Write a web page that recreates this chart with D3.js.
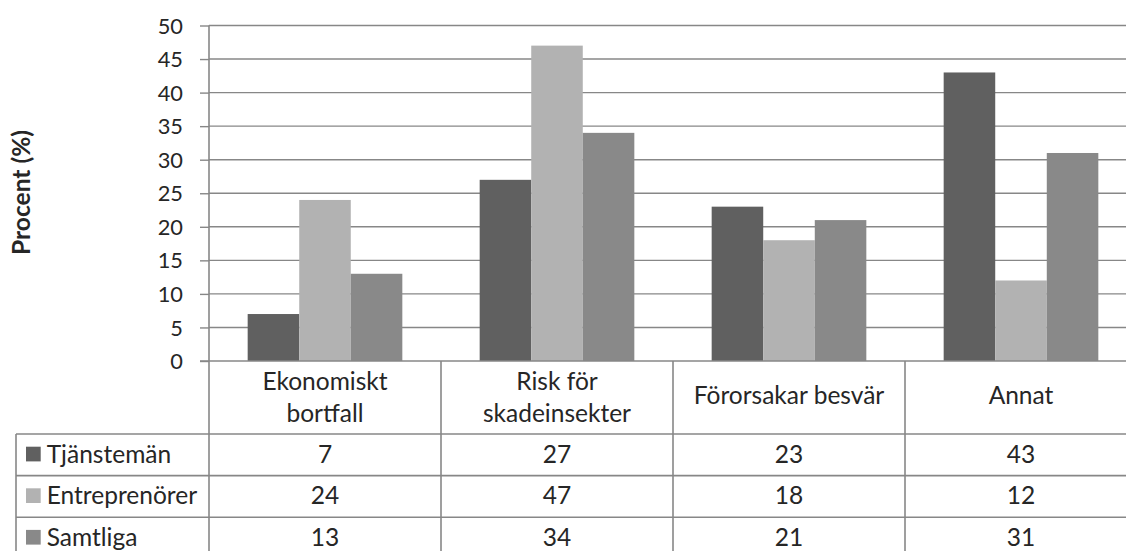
<!DOCTYPE html>
<html>
<head>
<meta charset="utf-8">
<script src="https://cdn.jsdelivr.net/npm/d3@7/dist/d3.min.js"></script>
<style>
  html, body { margin: 0; padding: 0; background: #fff; }
  svg { display: block; }
  text { font-family: Lato, "Open Sans", sans-serif; fill: #262626; }
</style>
</head>
<body>
<svg id="chart" width="1126" height="551"></svg>
<script>
// ---- data ----
const categories = [["Ekonomiskt", "bortfall"], ["Risk för", "skadeinsekter"], ["Förorsakar besvär"], ["Annat"]];
const seriesNames = ["Tjänstemän", "Entreprenörer", "Samtliga"];
const tjanstemanValues = [7, 27, 23, 43];
const entreprenorerValues = [24, 47, 18, 12];
const samtligaValues = [13, 34, 21, 31];
const yTicks = [0, 5, 10, 15, 20, 25, 30, 35, 40, 45, 50];
const yTitle = "Procent (%)";
const seriesColors = ["#606060", "#b2b2b2", "#898989"];

(function () {
const seriesValues = [tjanstemanValues, entreprenorerValues, samtligaValues];
const catKeys = categories.map(c => c.join(" "));

// ---- layout ----
const svg = d3.select("#chart");
const W = 1126, H = 551;
const axisX = 209, plotTop = 25.5, zeroY = 361;
const catW = 232;
const tableLeft = 16;
const rowTop = 434, rowH = 41.6;
const gridColor = "#878787";

function fit(txt, target, weight) {
  const t = svg.append("text").attr("font-size", 100).attr("font-weight", weight || "normal").text(txt);
  const w = t.node().getComputedTextLength();
  t.remove();
  return 100 * target / w;
}
const tableFont = (fit("Förorsakar besvär", 190) + fit("Tjänstemän", 125)) / 2;
const tickFont = fit("50", 25.3);
const titleFont = fit(yTitle, 125, "bold");

const x0 = d3.scaleBand().domain(catKeys).range([axisX, axisX + catW * 4]).paddingInner(0).paddingOuter(0);
const x1 = d3.scaleBand().domain(seriesNames).range([0, x0.bandwidth()]).paddingInner(0).paddingOuter(0.75);
const y = d3.scaleLinear().domain([0, 50]).range([zeroY, plotTop]);

// gridlines
svg.append("g").selectAll("line").data(yTicks.filter(d => d > 0)).join("line")
  .attr("x1", axisX).attr("x2", W)
  .attr("y1", d => y(d)).attr("y2", d => y(d))
  .attr("stroke", gridColor).attr("stroke-width", 1.4);

// bars
const g = svg.append("g");
seriesNames.forEach((s, si) => {
  g.append("g").selectAll("rect").data(seriesValues[si]).join("rect")
    .attr("x", (d, i) => x0(catKeys[i]) + x1(s))
    .attr("width", x1.bandwidth())
    .attr("y", d => y(d))
    .attr("height", d => zeroY - y(d))
    .attr("fill", seriesColors[si]);
});

// y axis
const yAxis = d3.axisLeft(y).tickValues(yTicks).tickSize(9).tickPadding(17).tickFormat(d3.format("d"));
const ag = svg.append("g").attr("transform", `translate(${axisX},0)`).call(yAxis);
ag.select(".domain").remove();
ag.selectAll(".tick line").attr("stroke", gridColor).attr("stroke-width", 1.4);
ag.selectAll(".tick text").attr("font-size", tickFont).attr("fill", "#262626")
  .attr("font-family", "Lato, 'Open Sans', sans-serif").attr("dy", "0.35em");

// zero line
svg.append("line").attr("x1", axisX - 9).attr("x2", W).attr("y1", zeroY).attr("y2", zeroY)
  .attr("stroke", gridColor).attr("stroke-width", 1.6);

// vertical axis line (continues into table)
svg.append("line").attr("x1", axisX).attr("x2", axisX).attr("y1", plotTop).attr("y2", H)
  .attr("stroke", gridColor).attr("stroke-width", 1.6);

// category separators
svg.append("g").selectAll("line").data(catKeys.slice(1)).join("line")
  .attr("x1", d => x0(d)).attr("x2", d => x0(d))
  .attr("y1", zeroY).attr("y2", H)
  .attr("stroke", gridColor).attr("stroke-width", 1.6);

// table horizontal lines
[0, 1, 2].forEach(r => {
  svg.append("line").attr("x1", tableLeft).attr("x2", W)
    .attr("y1", rowTop + r * rowH).attr("y2", rowTop + r * rowH)
    .attr("stroke", gridColor).attr("stroke-width", 1.6);
});
svg.append("line").attr("x1", tableLeft).attr("x2", tableLeft).attr("y1", rowTop).attr("y2", H)
  .attr("stroke", gridColor).attr("stroke-width", 1.6);

// category labels
const lineGap = 31.7;
categories.forEach((lines, i) => {
  const cx = x0(catKeys[i]) + x0.bandwidth() / 2;
  const t = svg.append("text").attr("text-anchor", "middle").attr("font-size", tableFont);
  lines.forEach((ln, li) => {
    const base = lines.length === 1 ? 404.3 : 390 + li * lineGap;
    t.append("tspan").attr("x", cx).attr("y", base).text(ln);
  });
});

// table rows
seriesNames.forEach((s, si) => {
  const ry = rowTop + si * rowH;
  const base = ry + 28.7;
  svg.append("rect").attr("x", 26).attr("y", ry + 12.7).attr("width", 14.7).attr("height", 14.7)
    .attr("fill", seriesColors[si]);
  svg.append("text").attr("x", 46.7).attr("y", base).attr("font-size", tableFont).text(s);
  seriesValues[si].forEach((v, i) => {
    svg.append("text").attr("x", x0(catKeys[i]) + x0.bandwidth() / 2).attr("y", base)
      .attr("text-anchor", "middle").attr("font-size", tableFont).text(v);
  });
});

// y title
svg.append("text").attr("transform", "translate(30,192.5) rotate(-90)")
  .attr("text-anchor", "middle").attr("font-weight", "bold").attr("font-size", titleFont)
  .text(yTitle);
})();
</script>
</body>
</html>
